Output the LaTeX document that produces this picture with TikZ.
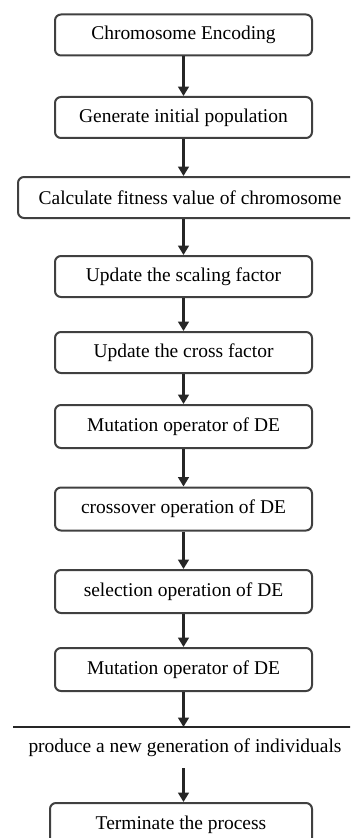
\documentclass[tikz,border=0pt]{standalone}
\usepackage{fontspec}
\setmainfont{Liberation Serif}
\usetikzlibrary{arrows.meta}
\begin{document}
\begin{tikzpicture}[x=0.75pt,y=-0.75pt,
  box/.style={draw=black!75, line width=1.5pt, rounded corners=4.5pt,
    minimum width=192.75pt, minimum height=30.75pt, inner sep=0pt,
    font=\fontsize{14.6}{16}\selectfont},
  tallbox/.style={box, minimum height=32.25pt},
  arr/.style={draw=black!85, line width=1.6pt, -{Triangle[length=7pt,width=8pt]}}]
\useasboundingbox (0,0) rectangle (350,838);
\clip (0,0) rectangle (350,838);
\node[box] (b1) at (183.5,35) {Chromosome Encoding};
\node[box] (b2) at (183.5,117.5) {Generate initial population};
\node[box, minimum width=258pt] (b3) at (190,197.5) {Calculate fitness value of chromosome};
\node[box] (b4) at (183.5,276.5) {Update the scaling factor};
\node[box] (b5) at (183.5,352.5) {Update the cross factor};
\node[tallbox] (b6) at (183.5,426.5) {Mutation operator of DE};
\node[tallbox] (b7) at (183.5,509) {crossover operation of DE};
\node[tallbox] (b8) at (183.5,591.5) {selection operation of DE};
\node[tallbox] (b9) at (183.5,669.5) {Mutation operator of DE};
\coordinate (l1) at (13,727);
\coordinate (l2) at (360,727);
\draw[draw=black!85, line width=1.5pt] (l1) -- (l2);
\node[font=\fontsize{14.6}{16}\selectfont, inner sep=0pt] (t) at (185,748) {produce a new generation of individuals};
\node[box, minimum width=196.5pt, minimum height=32.25pt] (b10) at (181,824.5) {Terminate the process};
\draw[arr] (b1.south) -- (b2.north);
\draw[arr] (b2.south) -- (b2.south |- b3.north);
\draw[arr] (b2.south |- b3.south) -- (b4.north);
\draw[arr] (b4.south) -- (b5.north);
\draw[arr] (b5.south) -- (b6.north);
\draw[arr] (b6.south) -- (b7.north);
\draw[arr] (b7.south) -- (b8.north);
\draw[arr] (b8.south) -- (b9.north);
\draw[arr] (b9.south) -- (b9.south |- l1);
\draw[arr] (b9.south |- 0,768) -- (b9.south |- b10.north);
\end{tikzpicture}
\end{document}
